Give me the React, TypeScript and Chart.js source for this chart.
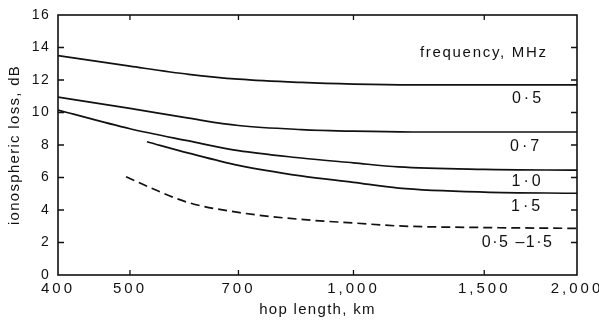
import React, { useEffect, useRef } from "react";
import { Chart, registerables } from "chart.js";

Chart.register(...registerables);

// ---- data (hop length km, ionospheric loss dB) ----
const hop05 = [400, 500, 600, 700, 850, 1000, 1200, 1500, 2000];
const loss05 = [13.5, 12.85, 12.35, 12.05, 11.85, 11.75, 11.7, 11.7, 11.7];

const hop07 = [400, 500, 600, 700, 850, 1000, 1200, 1500, 2000];
const loss07 = [10.95, 10.25, 9.65, 9.2, 8.95, 8.85, 8.8, 8.8, 8.8];

const hop10 = [400, 500, 600, 700, 850, 1000, 1150, 1500, 2000];
const loss10 = [10.15, 9.0, 8.25, 7.65, 7.2, 6.9, 6.65, 6.5, 6.45];

const hop15 = [527, 600, 700, 850, 1000, 1150, 1500, 2000];
const loss15 = [8.2, 7.5, 6.75, 6.1, 5.7, 5.35, 5.1, 5.03];

const hopBand = [494, 550, 600, 700, 850, 1000, 1150, 1500, 2000];
const lossBand = [6.05, 5.1, 4.45, 3.85, 3.42, 3.2, 3.02, 2.92, 2.87];

const xTickValues = [400, 500, 700, 1000, 1500, 2000];
const yTickMin = 0;
const yTickMax = 16;
const yTickStep = 2;

// curve labels: text, x (km), y (dB)
const curveLabelTexts = ["frequency, MHz", "0·5", "0·7", "1·0", "1·5", "0·5 –1·5"];
const curveLabelX = [1494, 1710, 1700, 1708, 1705, 1660];
const curveLabelY = [13.65, 10.85, 7.9, 5.75, 4.2, 2.0];
const curveLabelSpacing = [1.7, 3, 3, 3, 3, 1.5];

const FONT = '"Liberation Sans", Arial, sans-serif';
const INK = "#111";

const zip = (xs: number[], ys: number[]) => xs.map((x, i) => ({ x, y: ys[i] }));

const framePlugin = {
  id: "frameTicks",
  beforeDraw(chart: any) {
    chart.ctx.letterSpacing = "1.3px";
  },
  afterDatasetsDraw(chart: any) {
    const { ctx, chartArea: a, scales } = chart;
    ctx.save();
    ctx.letterSpacing = "0px";
    ctx.strokeStyle = INK;
    ctx.lineWidth = 1.6;
    ctx.strokeRect(a.left, a.top, a.right - a.left, a.bottom - a.top);
    ctx.beginPath();
    ctx.lineWidth = 1.3;
    const xs = scales.x;
    const ys = scales.y;
    xs.ticks.forEach((t: any) => {
      const px = xs.getPixelForValue(t.value);
      if (px <= a.left + 1 || px >= a.right - 1) return;
      ctx.moveTo(px, a.bottom);
      ctx.lineTo(px, a.bottom - 5);
      ctx.moveTo(px, a.top);
      ctx.lineTo(px, a.top + 5);
    });
    ys.ticks.forEach((t: any) => {
      const py = ys.getPixelForValue(t.value);
      if (py <= a.top + 1 || py >= a.bottom - 1) return;
      ctx.moveTo(a.left, py);
      ctx.lineTo(a.left + 6, py);
      ctx.moveTo(a.right, py);
      ctx.lineTo(a.right - 6, py);
    });
    ctx.stroke();
    ctx.restore();
    ctx.letterSpacing = "3px";
  },
  afterDraw(chart: any) {
    const { ctx, scales } = chart;
    ctx.save();
    ctx.fillStyle = INK;
    ctx.textAlign = "center";
    ctx.textBaseline = "middle";
    curveLabelTexts.forEach((txt, i) => {
      const sp = curveLabelSpacing[i];
      ctx.letterSpacing = sp + "px";
      ctx.font = (i === 0 ? "15px " : "16px ") + FONT;
      const px = scales.x.getPixelForValue(curveLabelX[i]) + sp / 2;
      const py = scales.y.getPixelForValue(curveLabelY[i]);
      ctx.fillText(txt, px, py);
    });
    ctx.restore();
  },
};

export default function App() {
  const ref = useRef<HTMLCanvasElement | null>(null);

  useEffect(() => {
    document.body.style.margin = "0";
    const canvas = ref.current;
    if (!canvas) return;
    const lineStyle = {
      borderColor: INK,
      borderWidth: 1.7,
      pointRadius: 0,
      fill: false,
      cubicInterpolationMode: "monotone" as const,
    };
    const chart = new Chart(canvas, {
      type: "line",
      data: {
        datasets: [
          { label: "0·5", data: zip(hop05, loss05), ...lineStyle },
          { label: "0·7", data: zip(hop07, loss07), ...lineStyle },
          { label: "1·0", data: zip(hop10, loss10), ...lineStyle },
          { label: "1·5", data: zip(hop15, loss15), ...lineStyle },
          { label: "0·5 –1·5", data: zip(hopBand, lossBand), ...lineStyle, borderDash: [9, 5] },
        ],
      },
      options: {
        responsive: false,
        animation: false,
        devicePixelRatio: 1,
        layout: { padding: { left: 0, top: 15, right: 22, bottom: 0 } },
        plugins: { legend: { display: false }, tooltip: { enabled: false } },
        scales: {
          x: {
            type: "logarithmic",
            min: 400,
            max: 2000,
            grid: { display: false, drawTicks: false },
            border: { display: false },
            afterBuildTicks: (scale: any) => {
              scale.ticks = xTickValues.map((v) => ({ value: v }));
            },
            afterFit: (scale: any) => {
              scale.height = 58;
              scale.paddingLeft = 0;
              scale.paddingRight = 0;
            },
            ticks: {
              z: 1,
              autoSkip: false,
              maxRotation: 0,
              minRotation: 0,
              padding: 5,
              color: INK,
              font: { family: FONT, size: 15 },
              callback: (v: any) => Number(v).toLocaleString("en-US"),
            },
            title: {
              display: true,
              text: "hop length, km",
              color: INK,
              font: { family: FONT, size: 15 },
              padding: { top: 0, bottom: 14 },
            },
          },
          y: {
            type: "linear",
            min: yTickMin,
            max: yTickMax,
            grid: { display: false, drawTicks: false },
            border: { display: false },
            afterFit: (scale: any) => {
              scale.width = 58;
              scale.paddingTop = 0;
              scale.paddingBottom = 0;
            },
            ticks: {
              stepSize: yTickStep,
              padding: 8,
              color: INK,
              font: { family: FONT, size: 14 },
            },
            title: {
              display: true,
              text: "ionospheric loss, dB",
              color: INK,
              font: { family: FONT, size: 15 },
              padding: { top: 6, bottom: 0 },
            },
          },
        },
      },
      plugins: [framePlugin],
    });
    return () => chart.destroy();
  }, []);

  return (
    <div style={{ width: 599, height: 333 }}>
      <canvas ref={ref} width={599} height={333} style={{ display: "block" }} />
    </div>
  );
}
